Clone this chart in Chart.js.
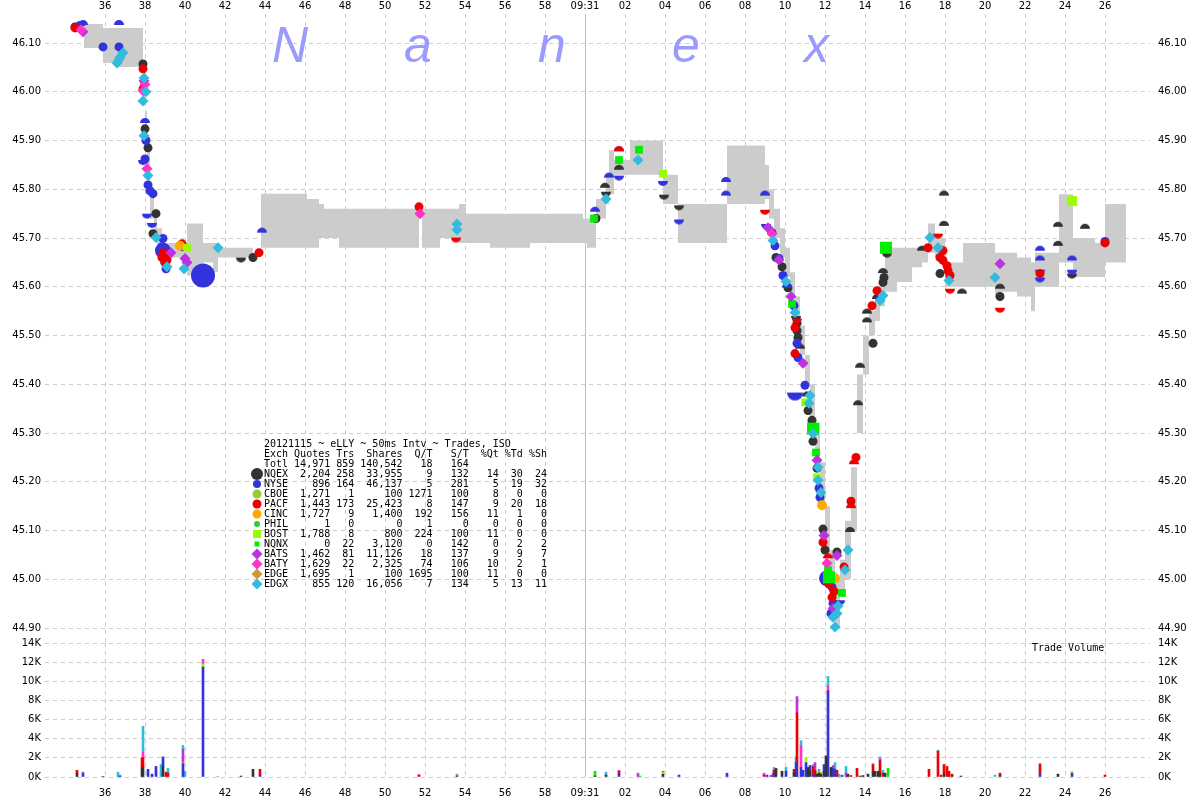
<!DOCTYPE html>
<html><head><meta charset="utf-8">
<script src="https://cdn.jsdelivr.net/npm/chart.js@4.4.0/dist/chart.umd.min.js"></script>
<style>
html,body{margin:0;padding:0;background:#fff;}
#wrap{position:relative;width:1200px;height:800px;overflow:hidden;}
canvas{position:absolute;left:0;top:0;}
</style></head><body>
<div id="wrap"><canvas id="price" width="1200" height="800"></canvas><canvas id="vol" width="1200" height="800"></canvas></div>
<script>
// ---------- axis ticks / labels ----------
const timeTicks = [36,38,40,42,44,46,48,50,52,54,56,58,60,62,64,66,68,70,72,74,76,78,80,82,84,86];
const timeLabels = ['36','38','40','42','44','46','48','50','52','54','56','58','09:31','02','04','06','08','10','12','14','16','18','20','22','24','26'];
const priceTicks = [44.9,45.0,45.1,45.2,45.3,45.4,45.5,45.6,45.7,45.8,45.9,46.0,46.1];
const volTicks = [0,2000,4000,6000,8000,10000,12000,14000];

// ---------- NBBO band (seconds after 09:30:00, ask, bid) ----------
const bandTime = [34.95,35.9,36.65,37.9,38.0,38.1,38.25,38.45,38.6,38.85,40.1,40.9,41.4,41.65,43.4,43.45,43.8,46.1,46.7,46.95,47.7,51.7,51.75,51.85,52.75,53.7,54.05,55.25,57.25,59.9,60.1,60.55,61.05,61.2,61.45,62.25,63.9,64.65,67.1,69.0,69.2,69.45,69.75,70.0,70.25,70.5,70.75,71.0,71.25,71.5,71.75,72.0,72.25,72.5,72.75,73.0,73.3,73.6,73.9,74.2,74.5,74.75,75.0,75.6,76.35,76.85,77.15,77.5,78.0,78.9,80.5,80.8,81.6,82.3,82.5,83.7,84.4,85.5,86.0,87.05];
const bandAsk = [46.139,46.131,46.131,46.05,45.96,45.88,45.80,45.76,45.72,45.69,45.73,45.69,45.69,45.68,45.68,null,45.791,45.78,45.77,45.76,45.76,45.76,null,45.76,45.76,45.77,45.75,45.75,45.75,45.74,45.74,45.78,45.83,45.88,45.86,45.90,45.83,45.77,45.89,45.85,45.80,45.76,45.72,45.68,45.63,45.58,45.52,45.46,45.40,45.32,45.24,45.15,45.06,45.00,45.04,45.12,45.23,45.42,45.50,45.55,45.58,45.62,45.68,45.68,45.68,45.68,45.73,45.70,45.65,45.69,45.67,45.67,45.66,45.65,45.67,45.79,45.70,45.69,45.77,45.77];
const bandBid = [46.090,46.059,46.051,45.99,45.88,45.80,45.74,45.70,45.68,45.66,45.623,45.65,45.63,45.66,45.66,null,45.68,45.68,45.70,45.70,45.68,45.68,null,45.68,45.70,45.69,45.69,45.68,45.69,45.69,45.68,45.74,45.77,45.79,45.83,45.83,45.77,45.69,45.77,45.78,45.74,45.70,45.66,45.62,45.58,45.52,45.46,45.40,45.32,45.24,45.15,45.05,44.95,44.90,44.97,45.00,45.10,45.30,45.42,45.50,45.53,45.56,45.59,45.61,45.64,45.65,45.67,45.66,45.60,45.60,45.58,45.59,45.58,45.55,45.60,45.65,45.62,45.62,45.65,45.65];

// ---------- trades [time, price] ----------
const nqexTrades = [[34.5,46.133],[37.9,46.057],[38.0,45.924],[38.15,45.885],[38.55,45.750],[38.4,45.709],[39.0,45.650],[43.4,45.660],[60.55,45.740],[69.55,45.660],[69.85,45.641],[70.15,45.598],[70.6,45.525],[70.6,45.510],[70.65,45.496],[71.15,45.346],[71.35,45.326],[71.4,45.283],[71.6,45.228],[71.9,45.103],[72.0,45.060],[72.6,45.056],[74.4,45.484],[74.9,45.609],[74.95,45.619],[77.75,45.627],[80.75,45.580]];
const nqexIsoUp = [[61.0,45.803],[61.7,45.840],[70.75,45.473],[71.1,45.375],[73.25,45.097],[73.65,45.357],[73.75,45.434],[74.1,45.527],[74.1,45.545],[74.6,45.575],[74.9,45.628],[76.85,45.674],[77.95,45.787],[77.95,45.725],[78.85,45.586],[80.75,45.596],[83.65,45.723],[83.65,45.684],[85.0,45.719]];
const nqexIsoDown = [[42.8,45.660],[61.05,45.795],[63.95,45.789],[64.7,45.767],[70.55,45.540],[75.1,45.670],[84.35,45.627]];
const nyseTrades = [[35.9,46.092],[36.7,46.092],[38.05,45.900],[38.0,45.862],[38.15,45.809],[38.25,45.797],[38.4,45.791],[38.9,45.699],[38.85,45.682],[39.05,45.637],[39.9,45.682],[69.35,45.711],[69.5,45.684],[69.7,45.658],[69.9,45.623],[70.45,45.561],[70.6,45.484],[70.65,45.455],[71.0,45.398],[71.7,45.187],[71.75,45.168],[72.3,44.930],[72.35,44.984],[72.4,44.951],[72.45,44.935],[74.75,45.576],[86.0,45.693]];
const nyseBlocks = [[38.9,45.674],[72.1,45.002]];
const nyseBigBlock = [[40.9,45.623]];
const nyseIsoUp = [[34.75,46.135],[34.9,46.137],[36.7,46.137],[38.0,45.936],[43.85,45.711],[60.5,45.754],[61.2,45.824],[61.7,45.878],[67.05,45.815],[67.05,45.787],[69.0,45.787],[70.1,45.598],[82.75,45.674],[82.75,45.654],[84.35,45.654]];
const nyseIsoDown = [[37.9,45.860],[38.1,45.750],[38.35,45.731],[61.7,45.828],[63.9,45.817],[64.7,45.738],[69.05,45.729],[72.75,44.957],[82.75,45.635],[82.75,45.619],[84.35,45.635]];
const nyseIsoDownBig = [[70.5,45.383]];
const pacfTrades = [[34.5,46.131],[37.9,46.047],[37.9,46.006],[38.9,45.670],[38.85,45.660],[39.0,45.650],[39.1,45.655],[39.85,45.688],[43.7,45.670],[51.7,45.764],[70.5,45.516],[70.5,45.463],[71.9,45.076],[72.2,44.990],[72.35,44.963],[72.45,44.975],[72.95,45.025],[73.3,45.160],[73.55,45.250],[74.35,45.561],[74.6,45.592],[77.15,45.680],[77.75,45.660],[77.9,45.654],[77.9,45.674],[78.1,45.643],[78.15,45.633],[78.25,45.623],[82.75,45.627],[86.0,45.690]];
const pacfIsoUp = [[61.7,45.878],[72.15,45.043],[73.3,45.146],[73.45,45.236]];
const pacfIsoDown = [[53.55,45.701],[69.0,45.758],[70.6,45.535],[77.65,45.709],[78.25,45.596],[80.75,45.557]];
const cincTrades = [[39.75,45.684],[71.85,45.152],[72.5,45.002]];
const bostTrades = [[40.1,45.680],[63.9,45.832],[71.0,45.363],[71.6,45.209]];
const bostBlocks = [[84.35,45.776]];
const nqnxTrades = [[60.45,45.740],[61.7,45.860],[62.7,45.881],[70.35,45.565],[71.55,45.260],[72.15,45.019],[72.85,44.972]];
const nqnxBlocks = [[71.4,45.309],[72.2,45.004],[75.05,45.680]];
const batsTrades = [[34.9,46.123],[37.95,46.022],[39.3,45.670],[40.0,45.658],[40.1,45.650],[69.15,45.721],[69.7,45.655],[70.3,45.580],[70.9,45.443],[71.6,45.244],[71.95,45.090],[72.4,44.940],[72.6,45.049],[80.75,45.647]];
const batyTrades = [[34.8,46.127],[37.9,46.002],[38.0,46.015],[38.1,45.842],[51.75,45.750],[69.35,45.709],[72.1,45.033]];
const edgxTrades = [[36.6,46.059],[36.7,46.066],[36.75,46.071],[36.9,46.080],[37.95,46.028],[38.05,46.000],[37.9,45.981],[37.95,45.910],[38.15,45.828],[38.55,45.701],[39.1,45.641],[39.95,45.637],[41.65,45.680],[53.6,45.729],[53.6,45.717],[61.05,45.780],[62.65,45.860],[69.4,45.695],[70.05,45.611],[70.5,45.547],[71.2,45.361],[71.25,45.377],[71.4,45.299],[71.65,45.230],[71.65,45.203],[71.8,45.178],[72.4,44.922],[72.5,44.902],[72.6,44.930],[72.65,44.945],[73.0,45.019],[73.15,45.060],[74.75,45.572],[74.9,45.582],[77.25,45.701],[77.65,45.680],[78.2,45.613],[80.5,45.619]];

// ---------- trade volume [time, shares] ----------
const nqexVol = [[34.6,400],[35.9,50],[37.85,800],[37.9,1000],[38.9,1100],[42.8,100],[43.4,800],[60.5,100],[61.05,200],[63.9,300],[69.55,900],[69.85,600],[70.45,400],[71.15,1000],[71.25,600],[71.6,300],[71.7,400],[71.8,300],[71.95,600],[72.05,2200],[72.3,1000],[73.15,300],[73.75,100],[73.9,150],[74.15,300],[74.4,500],[74.5,600],[74.65,600],[74.75,400],[75.0,400],[77.95,300],[78.35,150],[78.8,100],[80.75,150],[83.65,300]];
const nyseVol = [[34.9,300],[36.75,100],[38.15,800],[38.35,300],[38.55,1100],[38.9,1000],[39.9,1400],[40.9,11500],[43.75,200],[61.7,300],[64.7,200],[67.1,400],[69.1,200],[69.3,150],[69.45,300],[70.05,600],[70.55,1500],[70.6,400],[70.8,1000],[70.9,700],[71.05,1500],[71.25,600],[71.4,300],[71.95,700],[72.15,8900],[72.4,900],[72.5,800],[72.85,150],[82.75,300],[84.35,400]];
const pacfVol = [[34.6,300],[37.85,1200],[37.9,1000],[39.05,500],[39.15,400],[43.75,600],[51.7,200],[53.6,100],[61.7,300],[68.95,200],[69.45,400],[70.45,400],[70.6,6300],[71.4,800],[71.5,700],[72.15,100],[72.6,700],[73.3,150],[73.6,900],[74.4,800],[74.75,1300],[74.9,400],[77.2,800],[77.65,2700],[77.8,200],[77.95,1000],[78.1,1100],[78.2,600],[78.35,150],[80.75,250],[82.75,1000],[86.0,200]];
const cincVol = [[39.9,100],[71.8,200]];
const bostVol = [[40.9,300],[63.9,200],[71.05,500],[71.6,300],[84.35,200]];
const nqnxVol = [[60.5,500],[62.75,100],[72.85,50],[75.15,900]];
const batsVol = [[34.9,200],[39.9,1400],[62.65,200],[63.9,100],[70.6,1700],[71.5,800],[72.4,300],[73.05,400],[74.75,200]];
const batyVol = [[37.9,600],[40.9,500],[51.7,50],[61.7,100],[62.65,200],[68.95,200],[69.4,400],[70.8,2300],[72.15,500]];
const edgxVol = [[36.65,500],[36.75,100],[37.9,2700],[38.8,1300],[39.15,500],[39.9,400],[40.0,600],[41.65,50],[53.6,200],[61.05,300],[69.45,300],[70.05,400],[70.55,600],[70.8,500],[71.4,200],[71.7,400],[72.15,1000],[72.5,700],[72.7,300],[73.05,700],[74.4,100],[74.75,200],[74.9,300],[77.65,100],[80.5,200],[82.75,130]];

// ---------- summary table ----------
const tableTitle = '20121115 ~ eLLY ~ 50ms Intv ~ Trades, ISO';
const tableTotal = ['Totl','14,971','859','140,542','18','164','','',''];
const exchNames = ['NQEX','NYSE','CBOE','PACF','CINC','PHIL','BOST','NQNX','BATS','BATY','EDGE','EDGX'];
const exchQuotes = ['2,204','896','1,271','1,443','1,727','1','1,788','0','1,462','1,629','1,695','855'];
const exchTrades = ['258','164','1','173','9','0','8','22','81','22','1','120'];
const exchShares = ['33,955','46,137','100','25,423','1,400','0','800','3,120','11,126','2,325','100','16,056'];
const exchQT = ['9','5','1271','8','192','1','224','0','18','74','1695','7'];
const exchST = ['132','281','100','147','156','0','100','142','137','106','100','134'];
const exchPctQ = ['14','5','8','9','11','0','11','0','9','10','11','5'];
const exchPctT = ['30','19','0','20','1','0','0','2','9','2','0','13'];
const exchPctS = ['24','32','0','18','0','0','0','2','7','1','0','11'];

// ---------- styles ----------
const COL = {NQEX:'#333333', NYSE:'#3333dd', CBOE:'#99cc33', PACF:'#ee0000', CINC:'#ffaa00', PHIL:'#33cc33', BOST:'#99ff00', NQNX:'#00ee00', BATS:'#bb33dd', BATY:'#ff33cc', EDGE:'#cc9933', EDGX:'#33bbdd'};
const LEG_SHAPE = {NQEX:['circle',6], NYSE:['circle',4], CBOE:['circle',4.5], PACF:['circle',4.5], CINC:['circle',4.5], PHIL:['circle',3], BOST:['rect',4], NQNX:['rect',2.5], BATS:['diamond',5.5], BATY:['diamond',5.5], EDGE:['diamond',5.5], EDGX:['diamond',5.5]};
const T_MIN = 33, T_MAX = 88.25;
const P_MIN = 44.8693, P_MAX = 46.1595;
const GRIDC = '#cccccc';
const FONT = {family: 'DejaVu Sans', size: 10};
const MONO = '10px "DejaVu Sans Mono"';

function xy(a){ return a.map(p => ({x: p[0], y: p[1]})); }
function half(color, r, up){
  const c = document.createElement('canvas');
  c.width = 2*r+2; c.height = 2*r+2;
  const g = c.getContext('2d');
  g.fillStyle = color; g.beginPath();
  if (up) g.arc(r+1, r+1, r, Math.PI, 2*Math.PI); else g.arc(r+1, r+1, r, 0, Math.PI);
  g.closePath(); g.fill();
  return c;
}
function marks(data, color, style, r, order){
  return {type:'scatter', data: xy(data), pointStyle: style, pointRadius: r, pointHoverRadius: r,
    pointBackgroundColor: color, pointBorderColor: color, pointBorderWidth: 0, showLine: false, order};
}
function timeAxis(position, padding, height){
  return {type:'linear', position, min:T_MIN, max:T_MAX, bounds:'data', offset:false,
    grid:{color:GRIDC, lineWidth:1, drawTicks:false, offset:false},
    border:{display:false, dash:[4,4]},
    ticks:{font:FONT, color:'#000', padding, maxRotation:0, autoSkip:false,
      callback: v => { const i = timeTicks.indexOf(v); return i >= 0 ? timeLabels[i] : ''; }},
    afterBuildTicks: s => { s.ticks = timeTicks.map(v => ({value:v})); },
    afterFit: s => { s.height = height; }};
}
function valAxis(position, min, max, ticks, fmt, width, grid, stacked){
  return {type:'linear', position, min, max, stacked: !!stacked,
    grid:{color:GRIDC, lineWidth:1, drawTicks:false, display:grid},
    border:{display:false, dash:[4,4]},
    ticks:{font:FONT, color:'#000', padding: position === 'left' ? 4 : 8, callback: fmt},
    afterBuildTicks: s => { s.ticks = ticks.map(v => ({value:v})); },
    afterFit: s => { s.width = width; }};
}
const openLine = {id:'openLine', beforeDatasetsDraw(chart){
  const {ctx, chartArea:a, scales:{x}} = chart;
  const px = Math.round(x.getPixelForValue(60)) + 0.5;
  ctx.save(); ctx.strokeStyle = '#c0c0c0'; ctx.lineWidth = 1;
  ctx.beginPath(); ctx.moveTo(px, a.top); ctx.lineTo(px, a.bottom); ctx.stroke(); ctx.restore();
}};
function pad(s, n){ s = String(s); while (s.length < n) s = ' ' + s; return s; }
function row(c){ return c[0].padEnd(4) + ' ' + pad(c[1],6) + ' ' + pad(c[2],3) + ' ' + pad(c[3],7) + pad(c[4],5) + pad(c[5],6) + pad(c[6],5) + pad(c[7],4) + pad(c[8],4); }
function shape(ctx, kind, x, y, r, color){
  ctx.fillStyle = color; ctx.beginPath();
  if (kind === 'circle') ctx.arc(x, y, r, 0, 2*Math.PI);
  else if (kind === 'rect') ctx.rect(x-r, y-r, 2*r, 2*r);
  else { ctx.moveTo(x, y-r); ctx.lineTo(x+r, y); ctx.lineTo(x, y+r); ctx.lineTo(x-r, y); ctx.closePath(); }
  ctx.fill();
}
const decor = {id:'decor',
  beforeDatasetsDraw(chart){
    const ctx = chart.ctx;
    ctx.save();
    ctx.font = 'italic 50px "Liberation Sans"'; ctx.fillStyle = '#9b9bff';
    ctx.textBaseline = 'alphabetic'; ctx.textAlign = 'left';
    const letters = ['N','a','n','e','x'], lx = [272,404,538,672,804];
    letters.forEach((l,i) => ctx.fillText(l, lx[i], 62));
    ctx.restore();
  },
  afterDatasetsDraw(chart){
    const ctx = chart.ctx;
    ctx.save();
    ctx.font = MONO; ctx.fillStyle = '#000'; ctx.textBaseline = 'middle'; ctx.textAlign = 'left';
    const x0 = 264, y0 = 444, lh = 10;
    ctx.fillText(tableTitle, x0, y0);
    ctx.fillText(row(['Exch','Quotes','Trs','Shares','Q/T','S/T','%Qt','%Td','%Sh']), x0, y0 + lh);
    ctx.fillText(row(tableTotal), x0, y0 + 2*lh);
    exchNames.forEach((n, i) => {
      const y = y0 + (3+i)*lh;
      ctx.fillStyle = '#000';
      ctx.fillText(row([n, exchQuotes[i], exchTrades[i], exchShares[i], exchQT[i], exchST[i], exchPctQ[i], exchPctT[i], exchPctS[i]]), x0, y);
      const [k, r] = LEG_SHAPE[n];
      shape(ctx, k, 257, y, r, COL[n]);
    });
    ctx.restore();
  }};
const volLabel = {id:'volLabel', afterDraw(chart){
  const ctx = chart.ctx; ctx.save(); ctx.font = MONO; ctx.fillStyle = '#000';
  ctx.textBaseline = 'middle'; ctx.fillText('Trade Volume', 1032, 648); ctx.restore();
}};

// ---------- price chart ----------
const bandAskDS = {type:'line', data: bandTime.map((t,i) => ({x:t, y:bandAsk[i]})), stepped:'before', borderWidth:0, borderColor:'rgba(0,0,0,0)', pointRadius:0, fill:'+1', backgroundColor:'#cccccc', order:100, spanGaps:false};
const bandBidDS = {type:'line', data: bandTime.map((t,i) => ({x:t, y:bandBid[i]})), stepped:'before', borderWidth:0, borderColor:'rgba(0,0,0,0)', pointRadius:0, fill:false, order:101, spanGaps:false};

const priceSets = [
  bandAskDS, bandBidDS,
  marks(nyseBigBlock, COL.NYSE, 'circle', 12, 60),
  marks(nyseBlocks, COL.NYSE, 'circle', 8, 20),
  marks(nqexTrades, COL.NQEX, 'circle', 4.5, 19),
  marks(nqexIsoUp, COL.NQEX, half(COL.NQEX, 5, true), 5, 19),
  marks(nqexIsoDown, COL.NQEX, half(COL.NQEX, 5, false), 5, 19),
  marks(nyseTrades, COL.NYSE, 'circle', 4.5, 18),
  marks(nyseIsoUp, COL.NYSE, half(COL.NYSE, 5, true), 5, 18),
  marks(nyseIsoDown, COL.NYSE, half(COL.NYSE, 5, false), 5, 18),
  marks(nyseIsoDownBig, COL.NYSE, half(COL.NYSE, 8, false), 8, 18),
  marks(pacfTrades, COL.PACF, 'circle', 4.5, 17),
  marks(pacfIsoUp, COL.PACF, half(COL.PACF, 5, true), 5, 17),
  marks(pacfIsoDown, COL.PACF, half(COL.PACF, 5, false), 5, 17),
  marks(cincTrades, COL.CINC, 'circle', 5, 16),
  marks(bostTrades, COL.BOST, 'rect', 5.5, 15),
  marks(bostBlocks, COL.BOST, 'rect', 7, 15),
  marks(nqnxTrades, COL.NQNX, 'rect', 5.5, 14),
  marks(nqnxBlocks, COL.NQNX, 'rect', 8.5, 14),
  marks(batsTrades, COL.BATS, 'rectRot', 5.5, 13),
  marks(batyTrades, COL.BATY, 'rectRot', 5.5, 12),
  marks(edgxTrades, COL.EDGX, 'rectRot', 5.5, 11)
];

new Chart(document.getElementById('price'), {
  type:'scatter',
  data:{datasets: priceSets},
  options:{responsive:false, animation:false, events:[],
    layout:{padding:{top:0, left:0, right:0, bottom:157}},
    plugins:{legend:{display:false}, tooltip:{enabled:false}},
    scales:{
      x: timeAxis('top', 2, 13),
      y: valAxis('left', P_MIN, P_MAX, priceTicks, v => v.toFixed(2), 45, true),
      yR: valAxis('right', P_MIN, P_MAX, priceTicks, v => v.toFixed(2), 50, false)
    }},
  plugins:[openLine, decor]
});

// ---------- volume chart ----------
function volDS(data, color){ return {type:'bar', data: xy(data), backgroundColor: color, borderWidth:0, barThickness:2}; }
const volSets = [
  volDS(nqexVol, COL.NQEX), volDS(nyseVol, COL.NYSE), volDS(pacfVol, COL.PACF), volDS(cincVol, COL.CINC),
  volDS(bostVol, COL.BOST), volDS(nqnxVol, COL.NQNX), volDS(batsVol, COL.BATS), volDS(batyVol, COL.BATY), volDS(edgxVol, COL.EDGX)
];
const kfmt = v => (v/1000) + 'K';
const volX = timeAxis('bottom', 10, 23); volX.stacked = true;
new Chart(document.getElementById('vol'), {
  type:'bar',
  data:{datasets: volSets},
  options:{responsive:false, animation:false, events:[],
    layout:{padding:{top:643, left:0, right:0, bottom:0}},
    plugins:{legend:{display:false}, tooltip:{enabled:false}},
    scales:{
      x: volX,
      y: valAxis('left', 0, 14000, volTicks, kfmt, 45, true, true),
      yR: valAxis('right', 0, 14000, volTicks, kfmt, 50, false, true)
    }},
  plugins:[openLine, volLabel]
});
</script>
</body></html>
